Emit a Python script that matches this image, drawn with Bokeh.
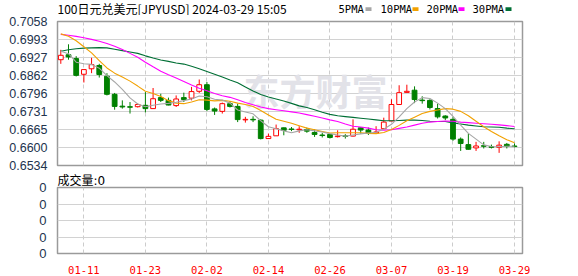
import pandas as pd
from bokeh.plotting import figure
from bokeh.layouts import column
from bokeh.models import Range1d, FixedTicker, Label, ColumnDataSource, Title
from bokeh.core.properties import value
from bokeh.embed import file_html
from bokeh.resources import INLINE

# ---------------- data ----------------
dates = [d.strftime("%m-%d") for d in pd.bdate_range("2024-01-08", "2024-03-29")]

open_ = [0.6919, 0.6937, 0.6923, 0.6866, 0.6886, 0.6898, 0.6859, 0.6793, 0.6750, 0.6748,
         0.6748, 0.6753, 0.6741, 0.6781, 0.6771, 0.6752, 0.6781, 0.6779, 0.6804, 0.6828,
         0.6740, 0.6731, 0.6759, 0.6749, 0.6700, 0.6702, 0.6699, 0.6632, 0.6642, 0.6671,
         0.6667, 0.6664, 0.6665, 0.6654, 0.6645, 0.6647, 0.6639, 0.6642, 0.6641, 0.6671,
         0.6663, 0.6652, 0.6668, 0.6696, 0.6756, 0.6800, 0.6808, 0.6772, 0.6771, 0.6741,
         0.6714, 0.6702, 0.6630, 0.6610, 0.6598, 0.6606, 0.6603, 0.6600, 0.6611, 0.6605]
high = [0.6955, 0.6975, 0.6932, 0.6883, 0.6926, 0.6904, 0.6870, 0.6798, 0.6771, 0.6765,
        0.6760, 0.6801, 0.6816, 0.6795, 0.6781, 0.6789, 0.6799, 0.6820, 0.6847, 0.6838,
        0.6745, 0.6763, 0.6768, 0.6759, 0.6711, 0.6713, 0.6702, 0.6650, 0.6683, 0.6672,
        0.6674, 0.6677, 0.6672, 0.6665, 0.6653, 0.6648, 0.6662, 0.6648, 0.6702, 0.6672,
        0.6672, 0.6677, 0.6708, 0.6775, 0.6826, 0.6828, 0.6822, 0.6786, 0.6775, 0.6759,
        0.6717, 0.6711, 0.6636, 0.6650, 0.6620, 0.6620, 0.6610, 0.6622, 0.6616, 0.6614]
low = [0.6904, 0.6919, 0.6858, 0.6836, 0.6870, 0.6854, 0.6789, 0.6737, 0.6741, 0.6723,
       0.6745, 0.6727, 0.6741, 0.6765, 0.6753, 0.6747, 0.6765, 0.6771, 0.6798, 0.6732,
       0.6718, 0.6723, 0.6745, 0.6692, 0.6690, 0.6692, 0.6629, 0.6632, 0.6642, 0.6644,
       0.6659, 0.6653, 0.6653, 0.6638, 0.6636, 0.6632, 0.6636, 0.6632, 0.6640, 0.6650,
       0.6645, 0.6650, 0.6668, 0.6696, 0.6756, 0.6799, 0.6761, 0.6759, 0.6738, 0.6705,
       0.6699, 0.6624, 0.6587, 0.6592, 0.6587, 0.6596, 0.6596, 0.6580, 0.6596, 0.6600]
close = [0.6935, 0.6929, 0.6862, 0.6883, 0.6901, 0.6865, 0.6793, 0.6749, 0.6747, 0.6746,
         0.6756, 0.6741, 0.6777, 0.6771, 0.6754, 0.6776, 0.6774, 0.6803, 0.6828, 0.6738,
         0.6732, 0.6759, 0.6749, 0.6701, 0.6702, 0.6700, 0.6632, 0.6640, 0.6668, 0.6662,
         0.6665, 0.6666, 0.6659, 0.6647, 0.6643, 0.6636, 0.6641, 0.6640, 0.6666, 0.6663,
         0.6652, 0.6656, 0.6692, 0.6756, 0.6799, 0.6804, 0.6774, 0.6770, 0.6745, 0.6711,
         0.6707, 0.6630, 0.6614, 0.6593, 0.6605, 0.6604, 0.6600, 0.6608, 0.6604, 0.6603]

ma5 = [0.6950, 0.6941, 0.6910, 0.6904, 0.6902, 0.6888, 0.6861, 0.6838, 0.6811, 0.6780,
       0.6758, 0.6748, 0.6753, 0.6758, 0.6760, 0.6764, 0.6770, 0.6776, 0.6787, 0.6784,
       0.6775, 0.6772, 0.6761, 0.6736, 0.6729, 0.6722, 0.6697, 0.6675, 0.6668, 0.6660,
       0.6653, 0.6660, 0.6664, 0.6660, 0.6656, 0.6650, 0.6645, 0.6641, 0.6645, 0.6649,
       0.6652, 0.6655, 0.6666, 0.6684, 0.6711, 0.6741, 0.6765, 0.6781, 0.6778, 0.6761,
       0.6741, 0.6713, 0.6681, 0.6651, 0.6630, 0.6609, 0.6603, 0.6602, 0.6604, 0.6604]
ma10 = [0.7013, 0.7004, 0.6988, 0.6966, 0.6944, 0.6916, 0.6889, 0.6870, 0.6856, 0.6841,
        0.6823, 0.6804, 0.6796, 0.6785, 0.6770, 0.6761, 0.6759, 0.6765, 0.6773, 0.6772,
        0.6769, 0.6771, 0.6768, 0.6761, 0.6756, 0.6749, 0.6734, 0.6718, 0.6702, 0.6695,
        0.6688, 0.6679, 0.6670, 0.6664, 0.6658, 0.6652, 0.6653, 0.6653, 0.6653, 0.6653,
        0.6651, 0.6650, 0.6654, 0.6665, 0.6680, 0.6697, 0.6710, 0.6723, 0.6731, 0.6736,
        0.6741, 0.6739, 0.6731, 0.6715, 0.6695, 0.6675, 0.6658, 0.6642, 0.6628, 0.6617]
ma20 = [0.7011, 0.7008, 0.7004, 0.6999, 0.6993, 0.6986, 0.6978, 0.6968, 0.6956, 0.6942,
        0.6928, 0.6910, 0.6893, 0.6877, 0.6864, 0.6852, 0.6840, 0.6827, 0.6815, 0.6806,
        0.6796, 0.6788, 0.6782, 0.6773, 0.6763, 0.6755, 0.6747, 0.6741, 0.6737, 0.6733,
        0.6729, 0.6725, 0.6719, 0.6713, 0.6707, 0.6700, 0.6694, 0.6685, 0.6677, 0.6674,
        0.6670, 0.6664, 0.6662, 0.6664, 0.6669, 0.6674, 0.6681, 0.6688, 0.6692, 0.6694,
        0.6696, 0.6695, 0.6692, 0.6690, 0.6688, 0.6686, 0.6684, 0.6682, 0.6679, 0.6676]
ma30 = [0.6950, 0.6955, 0.6959, 0.6961, 0.6962, 0.6963, 0.6962, 0.6957, 0.6952, 0.6947,
        0.6942, 0.6933, 0.6925, 0.6918, 0.6913, 0.6907, 0.6903, 0.6895, 0.6886, 0.6876,
        0.6866, 0.6856, 0.6845, 0.6835, 0.6820, 0.6805, 0.6792, 0.6783, 0.6776, 0.6769,
        0.6760, 0.6751, 0.6745, 0.6737, 0.6728, 0.6720, 0.6715, 0.6712, 0.6709, 0.6706,
        0.6703, 0.6700, 0.6697, 0.6697, 0.6698, 0.6699, 0.6699, 0.6698, 0.6695, 0.6694,
        0.6694, 0.6689, 0.6685, 0.6681, 0.6678, 0.6675, 0.6674, 0.6673, 0.6670, 0.6668]

price_ticks = [0.6534, 0.65995, 0.6665, 0.67305, 0.6796, 0.68615, 0.6927, 0.69925, 0.7058]
price_labels = ["0.6534", "0.6600", "0.6665", "0.6731", "0.6796", "0.6862", "0.6927", "0.6993", "0.7058"]
date_labels = ["01-11", "01-23", "02-02", "02-14", "02-26", "03-07", "03-19", "03-29"]
vol_ticks = [0, 1, 2, 3, 4]
vol_labels = ["0", "0", "0", "0", "0"]
volume_total = 0

title_text = "100日元兑美元[JPYUSD] 2024-03-29 15:05"
ma_names = ["5PMA", "10PMA", "20PMA", "30PMA"]
ma_colors = ["#a6a6a6", "#f2a100", "#ff00ff", "#006f35"]

# ---------------- styling ----------------
CJK = "Noto Sans CJK SC"
MONO = "DejaVu Sans Mono"
NUM = "'Liberation Sans', Arial"
UP = "#ff0000"
DOWN = "#008000"
GRID = "#d2d2d2"
AXC = "#22334d"
W = 578
FL, FR = 57, 56          # left / right borders shared by all panels

idx = list(range(len(dates)))
date_ticks = [i for i, d in enumerate(dates) if d in date_labels]
x_rng = Range1d(-0.43, 60.04)

# ---------------- header strip: title + MA legend (pixel coordinates) ----------------
h = figure(width=W, height=15, x_range=Range1d(FL, W - FR), y_range=Range1d(15, 0),
           output_backend="svg", toolbar_location=None,
           x_axis_location=None, y_axis_location=None,
           min_border_left=FL, min_border_right=FR, min_border_top=0, min_border_bottom=0)
h.grid.visible = False
h.outline_line_color = None
h.background_fill_color = "white"
h.border_fill_color = "white"
h.text(x=[FL], y=[8.3], text=[title_text], text_font=value(CJK), text_font_size="12px",
       text_color="#000000", text_baseline="middle")
leg_text_x = [338, 380, 426, 472]
leg_box_x = [365, 412, 458, 505]
h.text(x=leg_text_x, y=[8.5] * 4, text=ma_names, text_font=value(MONO), text_font_size="10.5px",
       text_color="#000000", text_baseline="middle")
h.quad(left=leg_box_x, right=[b + 6 for b in leg_box_x], top=[6.8] * 4, bottom=[10.6] * 4,
       fill_color=ma_colors, line_color=None)

# ---------------- main price panel ----------------
p = figure(width=W, height=156, x_range=x_rng, y_range=Range1d(price_ticks[0], price_ticks[-1]),
           output_backend="svg", toolbar_location=None,
           min_border_left=FL, min_border_right=FR, min_border_top=6, min_border_bottom=6)
p.background_fill_color = "white"
p.border_fill_color = "white"
p.outline_line_color = "#9a9a9a"
p.outline_line_width = 1.5
p.xaxis.visible = False
p.yaxis.ticker = FixedTicker(ticks=price_ticks)
p.yaxis.major_label_overrides = {t: l for t, l in zip(price_ticks, price_labels)}
p.yaxis.axis_line_color = None
p.yaxis.major_tick_line_color = None
p.yaxis.minor_tick_line_color = None
p.yaxis.major_label_standoff = 4
p.yaxis.major_label_text_font = NUM
p.yaxis.major_label_text_font_size = "12.5px"
p.yaxis.major_label_text_color = AXC
p.ygrid.grid_line_color = GRID
p.ygrid.grid_line_width = 1.2
p.xgrid.ticker = FixedTicker(ticks=date_ticks)
p.xgrid.grid_line_color = "#cccccc"
p.xgrid.grid_line_dash = "4 3"

# watermark
p.add_layout(Label(x=186, y=76, x_units="screen", y_units="screen", text="东方财富",
                   text_font=CJK, text_font_style="bold", text_font_size="36px",
                   text_color="#e2e2e8", text_baseline="middle", level="underlay"))

up = [c >= o for o, c in zip(open_, close)]
src = ColumnDataSource(dict(
    x=idx, high=high, low=low,
    top=[max(o, c) for o, c in zip(open_, close)],
    bottom=[min(o, c) for o, c in zip(open_, close)],
    color=[UP if u else DOWN for u in up],
    fill=["white" if (u and c > o) else (UP if u else DOWN) for u, o, c in zip(up, open_, close)],
))
p.segment(x0="x", y0="low", x1="x", y1="high", line_color="color", line_width=1, source=src)
p.vbar(x="x", width=0.62, top="top", bottom="bottom", fill_color="fill", line_color="color",
       line_width=1, source=src)

for ys, col in zip([ma30, ma20, ma10, ma5], ma_colors[::-1]):
    p.line(idx, ys, line_color=col, line_width=1.1)

# ---------------- volume panel ----------------
v = figure(width=W, height=105, x_range=x_rng, y_range=Range1d(vol_ticks[0], vol_ticks[-1]),
           output_backend="svg", toolbar_location=None,
           min_border_left=FL, min_border_right=FR, min_border_top=15, min_border_bottom=21)
v.title = Title(text="成交量:%d" % volume_total, align="left", standoff=0,
                text_font="'DejaVu Sans', 'Noto Sans CJK SC'", text_font_size="12px",
                text_font_style="normal", text_color="#000000", offset=0)
v.background_fill_color = "white"
v.border_fill_color = "white"
v.outline_line_color = "#9a9a9a"
v.outline_line_width = 1.5
v.yaxis.ticker = FixedTicker(ticks=vol_ticks)
v.yaxis.major_label_overrides = {t: l for t, l in zip(vol_ticks, vol_labels)}
v.yaxis.axis_line_color = None
v.yaxis.major_tick_line_color = None
v.yaxis.minor_tick_line_color = None
v.yaxis.major_label_standoff = 5
v.yaxis.major_label_text_font = NUM
v.yaxis.major_label_text_font_size = "13px"
v.yaxis.major_label_text_color = AXC
v.xaxis.ticker = FixedTicker(ticks=date_ticks)
v.xaxis.major_label_overrides = {i: dates[i] for i in date_ticks}
v.xaxis.axis_line_color = None
v.xaxis.major_tick_line_color = None
v.xaxis.minor_tick_line_color = None
v.xaxis.major_label_standoff = 6
v.xaxis.major_label_text_font = MONO
v.xaxis.major_label_text_font_size = "10.5px"
v.xaxis.major_label_text_color = "#ff0000"
v.ygrid.grid_line_color = GRID
v.ygrid.grid_line_width = 1.2
v.xgrid.ticker = FixedTicker(ticks=date_ticks)
v.xgrid.grid_line_color = "#cccccc"
v.xgrid.grid_line_dash = "4 3"

layout = column(h, p, v, spacing=0)
open("out.html", "w").write(file_html(layout, INLINE))
